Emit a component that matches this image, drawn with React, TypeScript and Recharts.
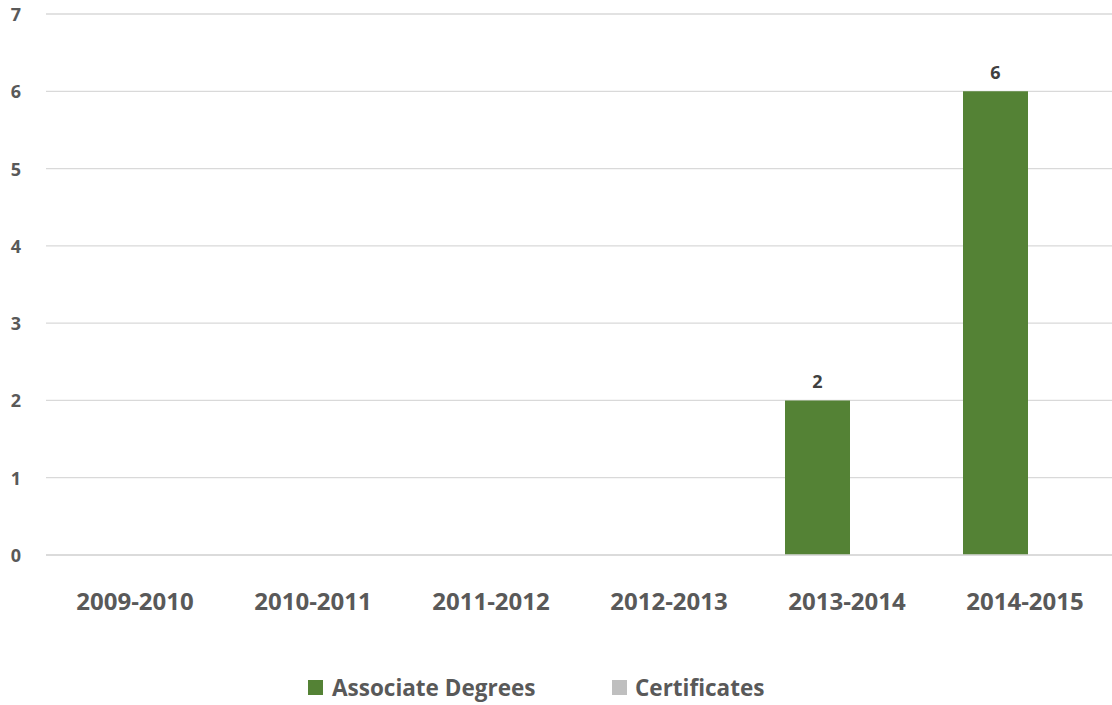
import { BarChart, Bar, XAxis, YAxis, CartesianGrid, Legend, LabelList } from "recharts";

const years = ["2009-2010", "2010-2011", "2011-2012", "2012-2013", "2013-2014", "2014-2015"];
const associateDegrees = [0, 0, 0, 0, 2, 6];
const certificates = [0, 0, 0, 0, 0, 0];
const yTicks = [0, 1, 2, 3, 4, 5, 6, 7];

const GREEN = "#548235";
const GRAY = "#BFBFBF";
const TEXT = "#595959";
const FONT = "'Open Sans', 'DejaVu Sans', sans-serif";

const data = years.map((year, i) => ({
  year,
  associate: associateDegrees[i],
  certificates: certificates[i],
}));

const YTick = (props: any) => {
  const { y, payload } = props;
  return (
    <text x={16} y={y} textAnchor="middle" dominantBaseline="central" fill={TEXT} fontSize={18} fontWeight="bold" fontFamily={FONT}>
      {payload.value}
    </text>
  );
};

const XTick = (props: any) => {
  const { x, y, payload } = props;
  return (
    <text x={x} y={y + 37} textAnchor="middle" dominantBaseline="central" fill={TEXT} fontSize={24} fontWeight="bold" fontFamily={FONT}>
      {payload.value}
    </text>
  );
};

const LegendContent = () => (
  <div style={{ position: "relative", height: 40, fontFamily: FONT, fontWeight: "bold", fontSize: 22.5, color: TEXT }}>
    <div style={{ position: "absolute", left: 308, top: 7, display: "flex", alignItems: "center" }}>
      <span style={{ width: 15, height: 15, background: GREEN, display: "inline-block", marginRight: 9 }} />
      <span>Associate Degrees</span>
    </div>
    <div style={{ position: "absolute", left: 612, top: 7, display: "flex", alignItems: "center" }}>
      <span style={{ width: 15, height: 15, background: GRAY, display: "inline-block", marginRight: 8 }} />
      <span>Certificates</span>
    </div>
  </div>
);

export default function App() {
  return (
    <div style={{ position: "absolute", left: 0, top: 0, width: 1112, height: 705, overflow: "hidden", background: "#fff" }}>
      <BarChart
        width={1114}
        height={705}
        data={data}
        margin={{ top: 14, right: 0, left: 0, bottom: 0 }}
        barGap={-6}
      >
        <CartesianGrid vertical={false} stroke="#d9d9d9" strokeWidth={1.3} />
        <XAxis
          dataKey="year"
          height={110}
          tickLine={false}
          axisLine={{ stroke: "#d9d9d9", strokeWidth: 1.3 }}
          tick={<XTick />}
          interval={0}
        />
        <YAxis
          width={46}
          domain={[0, 7]}
          ticks={yTicks}
          axisLine={false}
          tickLine={false}
          tick={<YTick />}
        />
        <Legend verticalAlign="bottom" height={40} content={<LegendContent />} />
        <Bar dataKey="associate" name="Associate Degrees" fill={GREEN} barSize={65} isAnimationActive={false}>
          <LabelList
            dataKey="associate"
            position="top"
            offset={12}
            formatter={(v: any) => (v ? v : "")}
            fill="#404040"
            fontSize={18}
            fontWeight="bold"
            fontFamily={FONT}
          />
        </Bar>
        <Bar dataKey="certificates" name="Certificates" fill={GRAY} barSize={65} isAnimationActive={false} />
      </BarChart>
    </div>
  );
}
